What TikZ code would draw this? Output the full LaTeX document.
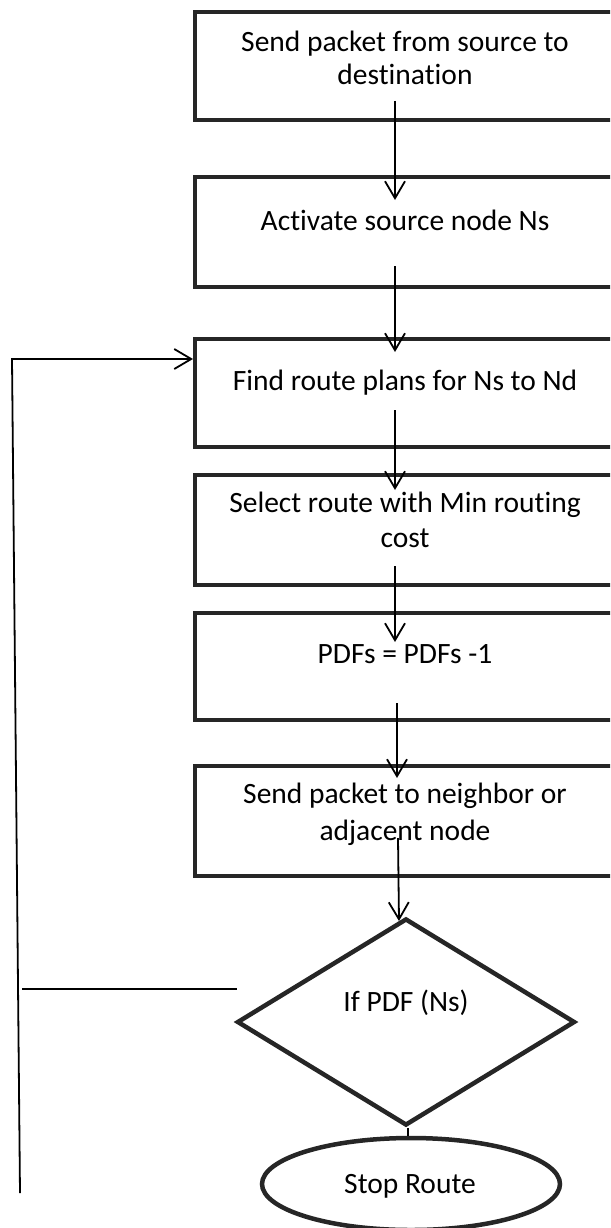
\documentclass[tikz,border=0pt]{standalone}
\usepackage{fontspec}
\setmainfont{Carlito}[Ligatures=NoCommon]
\usetikzlibrary{arrows.meta,shapes.geometric}
\definecolor{boxc}{HTML}{262626}
\tikzset{
  box/.style={draw=boxc, line width=4pt, rectangle, minimum width=424pt, minimum height=#1, inner sep=0pt, anchor=north west},
  lbl/.style={anchor=base, font=\fontsize{29.5}{34}\selectfont, inner sep=0pt, text=black},
  conn/.style={draw=black, line width=1.8pt, -{Straight Barb[length=17pt,width=20pt]}},
  plain/.style={draw=black, line width=1.8pt}
}
\begin{document}
\begin{tikzpicture}[x=1pt,y=-1pt]
\useasboundingbox (0,0) rectangle (610,1228);
\clip (0,0) rectangle (610,1228);

% boxes
\node[box=108pt] (b1) at (193,10) {};
\node[box=110pt] (b2) at (193,175) {};
\node[box=108pt] (b3) at (193,337) {};
\node[box=110pt] (b4) at (193,473) {};
\node[box=107pt] (b5) at (193,611) {};
\node[box=110pt] (b6) at (193,764) {};
\node[draw=boxc, line width=4.5pt, diamond, minimum width=338pt, minimum height=207pt, inner sep=0pt] (d) at (406,1022) {};
\node[draw=boxc, line width=4.5pt, ellipse, minimum width=298pt, minimum height=92pt, inner sep=0pt] (e) at (411,1184) {};

% texts
\node[lbl] (t1a) at (405,52) {Send packet from source to};
\node[lbl] (t1b) at (405,85) {destination};
\node[lbl] (t2) at (405,230) {Activate source node Ns};
\node[lbl] (t3) at (405,390) {Find route plans for Ns to Nd};
\node[lbl] (t4a) at (405,512) {Select route with Min routing};
\node[lbl] (t4b) at (405,547) {cost};
\node[lbl] (t5) at (405,663) {PDFs = PDFs -1};
\node[lbl] (t6a) at (405,803) {Send packet to neighbor or};
\node[lbl] (t6b) at (405,840) {adjacent node};
\node[lbl] (td) at (406,1011) {If PDF (Ns)};
\node[lbl] (te) at (410,1193) {Stop Route};

% connector end points
\coordinate (a1s) at (395,101); \coordinate (a1e) at (395,200);
\coordinate (a2s) at (395,266); \coordinate (a2e) at (395,352);
\coordinate (a3s) at (395,410); \coordinate (a3e) at (395,490);
\coordinate (a4s) at (395,566); \coordinate (a4e) at (395,642);
\coordinate (a5s) at (397,703); \coordinate (a5e) at (397,778);
\coordinate (a6s) at (398,838); \coordinate (a6e) at (399,921);
\coordinate (lb) at (20,1193);
\coordinate (lc) at (12,359);
\coordinate (le) at (193,359);
\coordinate (h1) at (22,989);
\coordinate (h2) at (237,989);

\draw[conn] (a1s) -- (a1e);
\draw[conn] (a2s) -- (a2e);
\draw[conn] (a3s) -- (a3e);
\draw[conn] (a4s) -- (a4e);
\draw[conn] (a5s) -- (a5e);
\draw[conn] (a6s) -- (a6e);
\draw[conn] (lb) -- (lc) -- (le);
\draw[plain] (h1) -- (h2);
\draw[plain] ([xshift=2pt]d.south) -- ([xshift=2pt]d.south |- e.north);
\end{tikzpicture}
\end{document}
